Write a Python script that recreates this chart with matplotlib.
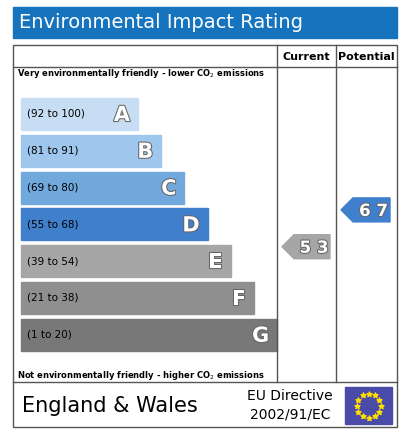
import matplotlib
matplotlib.use("Agg")
import matplotlib.pyplot as plt
from matplotlib.patches import Rectangle, Polygon
import matplotlib.patheffects as pe
import numpy as np

bands = ["A", "B", "C", "D", "E", "F", "G"]
ranges = ["(92 to 100)", "(81 to 91)", "(69 to 80)", "(55 to 68)", "(39 to 54)", "(21 to 38)", "(1 to 20)"]
lows = [92, 81, 69, 55, 39, 21, 1]
colors = ["#c6ddf3", "#9fc6ec", "#71a9dd", "#3f7fcb", "#a6a6a6", "#8f8f8f", "#787878"]
current = 53
potential = 67

fig = plt.figure(figsize=(4.08, 4.37), dpi=100)
ax = fig.add_axes([0, 0, 1, 1])
ax.set_xlim(0, 408); ax.set_ylim(437, 0); ax.axis("off")

# title bar
ax.add_patch(Rectangle((13, 7), 384, 31, color="#1673bd"))
ax.text(19, 23, "Environmental Impact Rating", color="white", fontsize=14, va="center", ha="left")

lc = "#555555"
ax.add_patch(Rectangle((13, 45), 384, 382, fill=False, ec=lc, lw=1))
ax.plot([13, 397], [67, 67], color=lc, lw=1)
ax.plot([13, 397], [382, 382], color=lc, lw=1)
ax.plot([277, 277], [45, 382], color=lc, lw=1)
ax.plot([336, 336], [45, 382], color=lc, lw=1)
ax.text(306, 57, "Current", fontsize=8, fontweight="bold", ha="center", va="center")
ax.text(366, 57, "Potential", fontsize=8, fontweight="bold", ha="center", va="center")
ax.text(17, 73, "Very environmentally friendly - lower CO$_2$ emissions", fontsize=6, fontweight="bold", va="center")
ax.text(17, 375, "Not environmentally friendly - higher CO$_2$ emissions", fontsize=6, fontweight="bold", va="center")

top0, step, h = 98, 36.8, 32
outline = [pe.withStroke(linewidth=1.5, foreground="#666666")]
centers = []
for i, (b, r, c) in enumerate(zip(bands, ranges, colors)):
    y = top0 + i * step
    x1 = 138 + i * 23.2
    centers.append(y + h / 2)
    ax.add_patch(Rectangle((21, y), x1 - 21, h, color=c))
    ax.text(27, y + h / 2, r, fontsize=7.5, va="center", ha="left", color="black")
    ax.text(x1 - 8, y + h / 2 + 1, b, fontsize=15, fontweight="bold", ha="right", va="center",
            color="white", path_effects=outline)

def band_of(v):
    for i, lo in enumerate(lows):
        if v >= lo:
            return i
    return len(lows) - 1

def arrow(v, xl, xr, col):
    i = band_of(v)
    yc = centers[i] - 14.5
    hh = 12
    pts = [(xl, yc), (xl + 12, yc - hh), (xr, yc - hh), (xr, yc + hh), (xl + 12, yc + hh)]
    ax.add_patch(Polygon(pts, closed=True, color=col))
    ax.text((xl + 12 + xr) / 2 + 2, yc + 1, " ".join(str(v)), fontsize=12, fontweight="bold",
            color="white", ha="center", va="center", path_effects=outline)

arrow(current, 282, 330, colors[band_of(current)])
arrow(potential, 341, 390, colors[band_of(potential)])

ax.text(22, 406, "England & Wales", fontsize=15, va="center", ha="left")
ax.text(290, 396, "EU Directive", fontsize=10, va="center", ha="center")
ax.text(290, 415, "2002/91/EC", fontsize=10, va="center", ha="center")
ax.add_patch(Rectangle((345, 387), 47, 37, color="#4a4aa8"))
ang = np.linspace(0, 2 * np.pi, 13)[:-1]
ax.scatter(368.5 + 12 * np.cos(ang), 405.5 + 12 * np.sin(ang), marker="*", s=14, color="#ffdd00", zorder=3)

fig.savefig("out.png", dpi=100)
